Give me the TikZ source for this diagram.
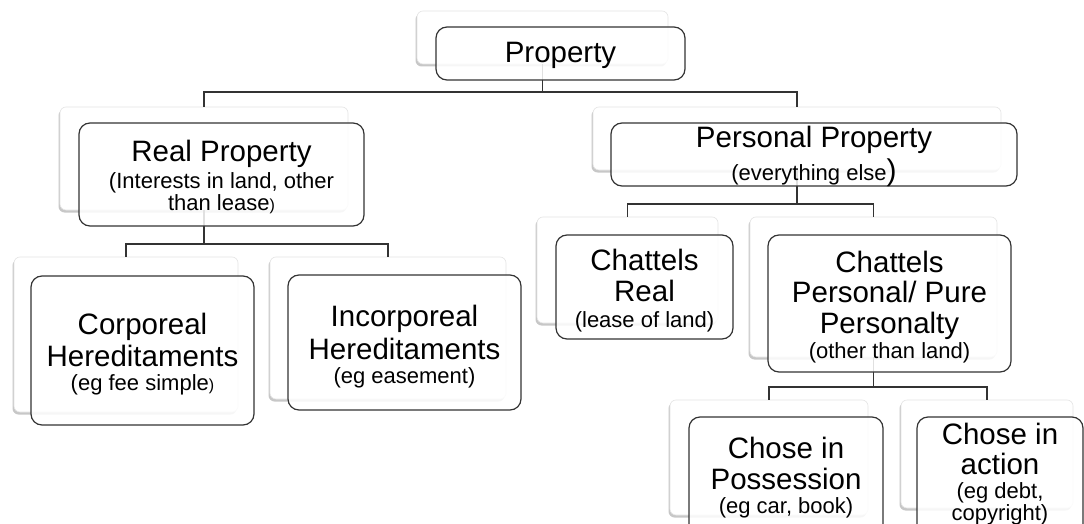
\documentclass[tikz,border=0pt]{standalone}
\usepackage{fontspec}
\setmainfont{Liberation Sans}
\usetikzlibrary{fit,shadows}
\begin{document}
\begin{tikzpicture}[x=1pt,y=-1pt,
 shadowbox/.style={draw=black!10, line width=0.6pt, fill=white, rounded corners=6pt, inner sep=0pt,
   drop shadow={shadow xshift=-1.5pt,shadow yshift=-2.5pt,fill=black,opacity=0.22}},
 frontbox/.style={draw=black!80, line width=1.2pt, fill=white, fill opacity=0.85, rounded corners=11pt, inner sep=0pt},
 connline/.style={draw=black!80, line width=1.2pt},
 ttltext/.style={anchor=base, inner sep=0pt, font=\fontsize{29.5}{30}\selectfont},
 subtext/.style={anchor=base, inner sep=0pt, font=\fontsize{22}{22}\selectfont},
]
\fill[white] (0,0) rectangle (1084,524);
\useasboundingbox (0,0) rectangle (1084,524);
\clip (0,0) rectangle (1084,524);

% shadow boxes
\node[shadowbox, fit={(417,11) (668,64)}] (propS) {};
\node[shadowbox, fit={(60,107) (348,210)}] (rpS) {};
\node[shadowbox, fit={(593,107) (1001,170)}] (ppS) {};
\node[shadowbox, fit={(14,257) (238,412)}] (corS) {};
\node[shadowbox, fit={(270,257) (506,399)}] (incS) {};
\node[shadowbox, fit={(537,217) (718,323)}] (crS) {};
\node[shadowbox, fit={(750,217) (997,357)}] (cpS) {};
\node[shadowbox, fit={(670,400) (868,515)}] (cipS) {};
\node[shadowbox, fit={(901,400) (1073,508)}] (ciaS) {};

% connectors
\coordinate (propJ) at (propS.south |- 0,92);
\draw[connline] (propS.south) -- (propJ);
\draw[connline] (rpS.north) |- (propJ) -| (ppS.north);
\coordinate (rpJ) at (rpS.south |- 0,244);
\draw[connline] (rpS.south) -- (rpJ);
\draw[connline] (corS.north) |- (rpJ) -| (incS.north);
\coordinate (ppJ) at (ppS.south |- 0,204);
\draw[connline] (ppS.south) -- (ppJ);
\draw[connline] (crS.north) |- (ppJ) -| (cpS.north);
\coordinate (cpJ) at (cpS.south |- 0,387);
\draw[connline] (cpS.south) -- (cpJ);
\draw[connline] (cipS.north) |- (cpJ) -| (ciaS.north);

% front boxes
\node[frontbox, fit={(436,27) (685,80)}] (prop) {};
\node[frontbox, fit={(79,123) (364,226)}] (rp) {};
\node[frontbox, fit={(611,123) (1017,186)}] (pp) {};
\node[frontbox, fit={(31,276) (254,425)}] (cor) {};
\node[frontbox, fit={(288,275) (521,410)}] (inc) {};
\node[frontbox, fit={(556,235) (733,339)}] (cr) {};
\node[frontbox, fit={(768,235) (1011,372)}] (cp) {};
\node[frontbox, fit={(689,417) (883,545)}] (cip) {};
\node[frontbox, fit={(917,417) (1083,545)}] (cia) {};

% texts
\node[ttltext] (propT1) at (prop |- 0,63) {Property};

\node[ttltext] (rpT1) at (rp |- 0,161) {Real Property};
\node[subtext] (rpT2) at (rp |- 0,188) {(Interests in land, other};
\node[subtext] (rpT3) at (rp |- 0,210) {than lease{\fontsize{16}{16}\selectfont)}};

\node[ttltext] (ppT1) at (pp |- 0,148) {Personal Property};
\node[subtext] (ppT2) at (pp |- 0,180) {(everything else{\fontsize{30}{30}\selectfont)}};

\node[ttltext] (corT1) at (cor |- 0,334) {Corporeal};
\node[ttltext] (corT2) at (cor |- 0,366) {Hereditaments};
\node[subtext] (corT3) at (cor |- 0,390) {(eg fee simple{\fontsize{16}{16}\selectfont)}};

\node[ttltext] (incT1) at (inc |- 0,326) {Incorporeal};
\node[ttltext] (incT2) at (inc |- 0,359) {Hereditaments};
\node[subtext] (incT3) at (inc |- 0,383) {(eg easement)};

\node[ttltext] (crT1) at (cr |- 0,270) {Chattels};
\node[ttltext] (crT2) at (cr |- 0,301) {Real};
\node[subtext] (crT3) at (cr |- 0,327) {(lease of land)};

\node[ttltext] (cpT1) at (cp |- 0,272) {Chattels};
\node[ttltext] (cpT2) at (cp |- 0,302) {Personal/ Pure};
\node[ttltext] (cpT3) at (cp |- 0,333) {Personalty};
\node[subtext] (cpT4) at (cp |- 0,358) {(other than land)};

\node[ttltext] (cipT1) at (cip.center |- 0,458) {Chose in};
\node[ttltext] (cipT2) at (cip.center |- 0,489) {Possession};
\node[subtext] (cipT3) at (cip.center |- 0,513) {(eg car, book)};

\node[ttltext] (ciaT1) at (cia.center |- 0,444) {Chose in};
\node[ttltext] (ciaT2) at (cia.center |- 0,474) {action};
\node[subtext] (ciaT3) at (cia.center |- 0,498) {(eg debt,};
\node[subtext] (ciaT4) at (cia.center |- 0,520) {copyright)};
\end{tikzpicture}
\end{document}
